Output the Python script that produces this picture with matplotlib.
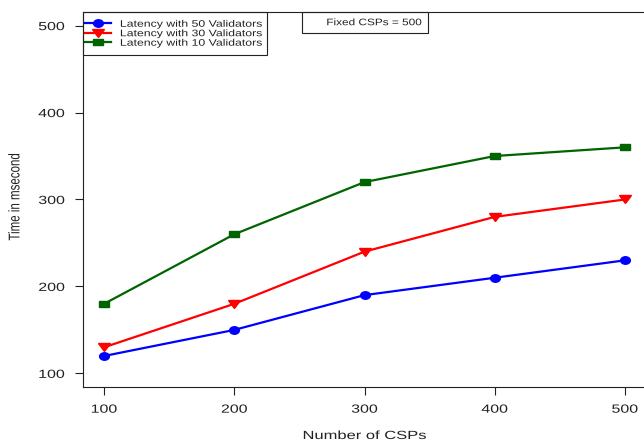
import matplotlib
matplotlib.use('Agg')
import matplotlib.pyplot as plt
from matplotlib.markers import MarkerStyle
from matplotlib.patches import Rectangle
from matplotlib.patheffects import AbstractPathEffect
from matplotlib.transforms import Affine2D

# data
csps = [100, 200, 300, 400, 500]
lat_50 = [120, 150, 190, 210, 230]
lat_30 = [130, 180, 240, 280, 300]
lat_10 = [180, 260, 320, 350, 360]
series_labels = ['Latency with 50 Validators',
                 'Latency with 30 Validators',
                 'Latency with 10 Validators']
x_ticks = [100, 200, 300, 400, 500]
y_ticks = [100, 200, 300, 400, 500]
note = 'Fixed CSPs = 500'

plt.rcParams['font.family'] = ['Liberation Sans', 'DejaVu Sans']
ink = '#222222'


class Widen(AbstractPathEffect):
    # the original picture is stretched sideways, so stretch the glyphs too
    def __init__(self, sx=1.35, anchor=0.5):
        super().__init__()
        self.sx = sx
        self.anchor = anchor

    def draw_path(self, renderer, gc, tpath, affine, rgbFace=None):
        ext = tpath.get_extents(affine)
        x0 = ext.x0 + self.anchor * ext.width
        wide = Affine2D().translate(-x0, 0).scale(self.sx, 1).translate(x0, 0)
        renderer.draw_path(gc, tpath, affine + wide, rgbFace)


def wide_marker(m):
    return MarkerStyle(m, transform=Affine2D().scale(1.3, 1))


fig = plt.figure(figsize=(6.44, 4.45), dpi=100)
ax = fig.add_axes([0.1293, 0.1297, 0.8734, 0.8440])

ax.plot(csps, lat_50, color='#0000ff', lw=1.6, marker=wide_marker('o'), ms=5.4,
        label=series_labels[0])
ax.plot(csps, lat_30, color='#ff0000', lw=1.6, marker=wide_marker('v'), ms=6.4,
        label=series_labels[1])
ax.plot(csps, lat_10, color='#006400', lw=1.6, marker=wide_marker('s'), ms=5.0,
        label=series_labels[2])

ax.set_xlim(84, 516)
ax.set_ylim(84, 516)
ax.set_xticks(x_ticks)
ax.set_yticks(y_ticks)
ax.tick_params(direction='out', length=5.8, width=0.8, color=ink,
               labelsize=8.5, labelcolor=ink)
ax.tick_params(axis='x', pad=6)
ax.tick_params(axis='y', pad=7.5)
for lab in ax.get_xticklabels():
    lab.set_path_effects([Widen(1.35, 0.5)])
for lab in ax.get_yticklabels():
    lab.set_path_effects([Widen(1.35, 1.0)])

for s in ax.spines.values():
    s.set_color(ink)
    s.set_linewidth(0.8)

ax.set_xlabel('Number of CSPs', fontsize=8.5, color=ink, va='center',
              path_effects=[Widen(1.4, 0.5)])
ax.xaxis.set_label_coords(0.5, -0.1297)
ax.set_ylabel('Time in msecond', fontsize=8.3, color=ink, va='center',
              path_effects=[Widen(1.35, 0.5)])
ax.yaxis.set_label_coords(-0.1214, 0.507)

leg = ax.legend(loc='upper left', bbox_to_anchor=(-0.0112, 1.0), borderaxespad=0,
                frameon=False, fontsize=6.8, handlelength=2.72, handletextpad=1.0,
                labelspacing=0.05, borderpad=0.85, numpoints=1)
for t in leg.get_texts():
    t.set_color(ink)
    t.set_path_effects([Widen(1.3, 0.0)])

# boxes drawn by hand since the legend sizes them from unstretched text
ax.add_patch(Rectangle((0, 0.8847), 0.3266, 0.1153, transform=ax.transAxes,
                       fill=False, ec=ink, lw=0.8, clip_on=False))
ax.add_patch(Rectangle((0.3888, 0.9433), 0.224, 0.0567, transform=ax.transAxes,
                       fill=False, ec=ink, lw=0.8, clip_on=False))
ax.text(0.6021, 0.9707, note, transform=ax.transAxes, ha='right', va='center',
        fontsize=6.8, color=ink, path_effects=[Widen(1.25, 1.0)])

fig.savefig('out.png', dpi=100)
